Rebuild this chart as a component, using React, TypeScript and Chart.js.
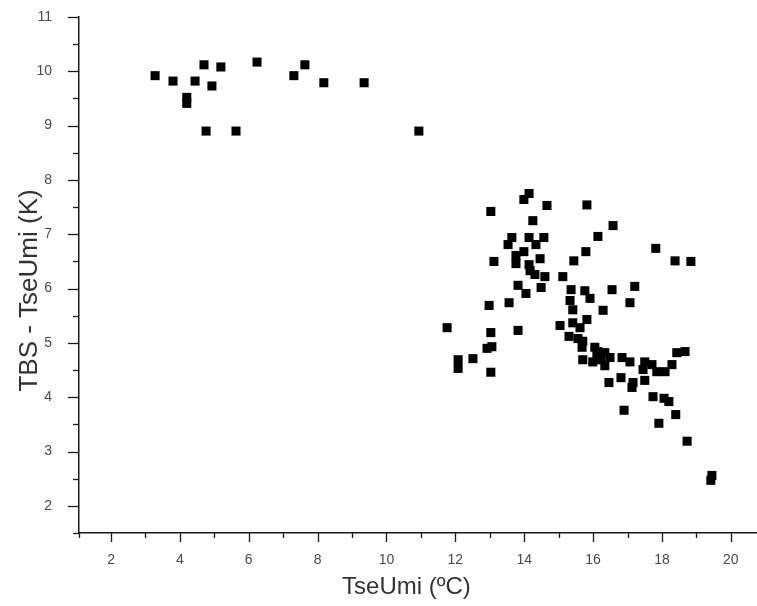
import React, { useEffect, useRef } from "react";
import { Chart, registerables } from "chart.js";

Chart.register(...registerables);

// TseUmi (ºC)
const tseUmi: number[] = [
  3.28, 3.80, 4.20, 4.20, 4.44, 4.70, 4.93, 5.19, 4.76, 5.63, 6.24, 7.31, 7.63, 8.18, 9.35, 10.94,
  11.76, 12.08, 12.08, 12.51, 12.92, 13.06, 13.03, 13.03, 12.98, 13.56, 13.82, 13.03, 13.12,
  14.14, 13.99, 14.66, 14.25, 13.64, 13.53, 14.14, 14.34, 14.57, 13.99, 13.76, 13.76, 14.46,
  14.14, 14.17, 14.31, 14.60, 13.82, 14.05, 14.49, 15.12, 15.44, 15.79, 15.82, 16.14, 16.58,
  15.36, 15.76, 15.91, 15.33, 15.41, 16.29, 16.55, 17.21, 17.07, 17.82, 18.38, 18.84,
  15.04, 15.41, 15.62, 15.82, 15.30, 15.56, 15.70, 15.68, 16.05, 16.14, 16.11, 16.34, 16.49,
  16.23, 15.99, 15.70, 16.34, 16.84, 17.07, 17.50, 17.71, 17.45, 17.85, 18.09, 18.29, 18.43,
  18.67, 16.46, 16.81, 17.16, 17.13, 17.50, 17.74, 18.06, 18.20, 18.40, 16.90, 17.91, 18.73,
  19.45, 19.42,
];

// TBS - TseUmi (K)
const tbsMinusTseUmi: number[] = [
  9.92, 9.82, 9.52, 9.41, 9.82, 10.12, 9.73, 10.08, 8.90, 8.90, 10.17, 9.92, 10.12, 9.79, 9.79, 8.90,
  5.28, 4.69, 4.53, 4.71, 4.90, 4.93, 5.19, 4.46, 5.69, 5.74, 5.23, 7.42, 6.50,
  7.75, 7.64, 7.53, 7.25, 6.94, 6.81, 6.94, 6.81, 6.94, 6.68, 6.61, 6.46, 6.55,
  6.44, 6.33, 6.26, 6.22, 6.06, 5.91, 6.02, 6.22, 6.51, 6.68, 7.54, 6.96, 7.16,
  5.98, 5.96, 5.82, 5.78, 5.61, 5.60, 5.98, 6.04, 5.74, 6.74, 6.51, 6.50,
  5.32, 5.37, 5.28, 5.43, 5.12, 5.08, 5.03, 4.92, 4.92, 4.84, 4.77, 4.82, 4.73,
  4.69, 4.65, 4.69, 4.58, 4.73, 4.65, 4.65, 4.60, 4.51, 4.47, 4.47, 4.60, 4.82,
  4.84, 4.27, 4.36, 4.27, 4.18, 4.31, 4.01, 3.98, 3.92, 3.68, 3.76, 3.52, 3.19,
  2.56, 2.47,
];

const xTickLabels: number[] = [2, 4, 6, 8, 10, 12, 14, 16, 18, 20];
const xMinorTicks: number[] = [1, 3, 5, 7, 9, 11, 13, 15, 17, 19];
const yTickLabels: number[] = [2, 3, 4, 5, 6, 7, 8, 9, 10, 11];
const yMinorTicks: number[] = [1.5, 2.5, 3.5, 4.5, 5.5, 6.5, 7.5, 8.5, 9.5, 10.5];

const xTitle = "TseUmi (ºC)";
const yTitle = "TBS - TseUmi (K)";

const X_MIN = 1.07;
const X_MAX = 20.76;
const Y_MIN = 1.5;
const Y_MAX = 11;

const FONT = "'Liberation Sans', Arial, sans-serif";

const decorPlugin = {
  id: "decor",
  afterDraw(chart: any) {
    const ctx = chart.ctx;
    const xs = chart.scales.x;
    const ys = chart.scales.y;
    const area = chart.chartArea;
    ctx.save();
    ctx.strokeStyle = "#1a1a1a";
    ctx.lineWidth = 1.3;
    const drawX = (v: number, len: number) => {
      if (v < X_MIN - 0.2 || v > X_MAX) return;
      const px = Math.round(xs.getPixelForValue(Math.max(v, X_MIN))) + 0.5;
      ctx.beginPath();
      ctx.moveTo(px, area.bottom);
      ctx.lineTo(px, area.bottom + len);
      ctx.stroke();
    };
    const drawY = (v: number, len: number) => {
      const py = Math.round(ys.getPixelForValue(v)) + 0.5;
      ctx.beginPath();
      ctx.moveTo(area.left, py);
      ctx.lineTo(area.left - len, py);
      ctx.stroke();
    };
    xTickLabels.forEach((v) => drawX(v, 9));
    xMinorTicks.forEach((v) => drawX(v, 5));
    yTickLabels.forEach((v) => drawY(v, 11));
    yMinorTicks.forEach((v) => drawY(v, 6));

    // axis titles
    ctx.fillStyle = "#333333";
    ctx.textAlign = "center";
    ctx.textBaseline = "middle";
    ctx.font = `24px ${FONT}`;
    ctx.fillText(xTitle, area.left + (area.right - area.left) * 0.483, chart.height - 19);
    ctx.translate(30, area.top + (area.bottom - area.top) * 0.53);
    ctx.rotate(-Math.PI / 2);
    ctx.font = `26px ${FONT}`;
    ctx.fillText(yTitle, 0, 0);
    ctx.restore();
  },
};

export default function App() {
  const canvasRef = useRef<HTMLCanvasElement | null>(null);

  useEffect(() => {
    const canvas = canvasRef.current;
    if (!canvas) return;
    const points = tseUmi.map((x, i) => ({ x, y: tbsMinusTseUmi[i] }));
    const chart = new Chart(canvas, {
      type: "scatter",
      data: {
        datasets: [
          {
            data: points,
            pointStyle: "rect",
            pointRadius: 6.4,
            pointHoverRadius: 6.4,
            backgroundColor: "#000000",
            borderWidth: 0,
            clip: false,
          },
        ],
      },
      options: {
        responsive: false,
        animation: false,
        events: [],
        layout: { autoPadding: false, padding: { left: 0, right: 0, top: 17, bottom: 0 } },
        plugins: {
          legend: { display: false },
          tooltip: { enabled: false },
        },
        scales: {
          x: {
            type: "linear",
            min: X_MIN,
            max: X_MAX,
            afterBuildTicks: (scale: any) => {
              scale.ticks = xTickLabels.map((v) => ({ value: v }));
            },
            afterFit: (scale: any) => {
              scale.height = 73;
              scale.paddingLeft = 0;
              scale.paddingRight = 0;
            },
            grid: { display: false },
            border: { display: true, color: "#1a1a1a", width: 1.5 },
            ticks: {
              padding: 11,
              color: "#4a4a4a",
              font: { family: FONT, size: 14 },
              maxRotation: 0,
              autoSkip: false,
            },
            title: { display: false },
          },
          y: {
            type: "linear",
            min: Y_MIN,
            max: Y_MAX,
            afterBuildTicks: (scale: any) => {
              scale.ticks = yTickLabels.map((v) => ({ value: v }));
            },
            afterFit: (scale: any) => {
              scale.width = 79;
              scale.paddingTop = 0;
              scale.paddingBottom = 0;
            },
            grid: { display: false },
            border: { display: true, color: "#1a1a1a", width: 1.5 },
            ticks: {
              padding: 19,
              color: "#4a4a4a",
              font: { family: FONT, size: 14 },
              autoSkip: false,
            },
            title: { display: false },
          },
        },
      },
      plugins: [decorPlugin],
    });
    return () => chart.destroy();
  }, []);

  return (
    <div style={{ position: "fixed", left: 0, top: 0, width: 757, height: 606, background: "#ffffff" }}>
      <canvas ref={canvasRef} width={757} height={606} style={{ display: "block" }} />
    </div>
  );
}
